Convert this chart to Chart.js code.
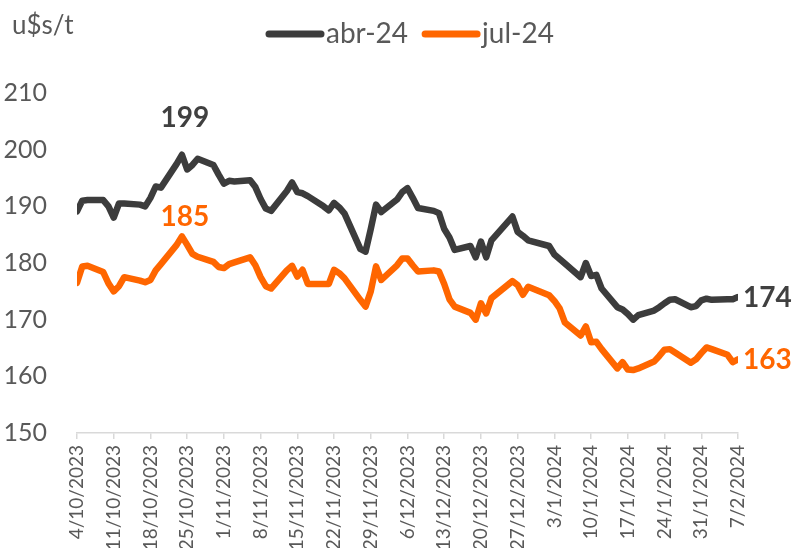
<!DOCTYPE html>
<html><head><meta charset="utf-8">
<script src="https://cdn.jsdelivr.net/npm/chart.js@4"></script>
<style>html,body{margin:0;padding:0;background:#fff}#wrap{width:793px;height:548px;position:relative}</style>
</head><body><div id="wrap"><canvas id="c"></canvas></div>
<script>
const dates = [
'4/10/2023','5/10/2023','6/10/2023',
'9/10/2023','10/10/2023','11/10/2023','12/10/2023','13/10/2023',
'16/10/2023','17/10/2023','18/10/2023','19/10/2023','20/10/2023',
'23/10/2023','24/10/2023','25/10/2023','26/10/2023','27/10/2023',
'30/10/2023','31/10/2023','1/11/2023','2/11/2023','3/11/2023',
'6/11/2023','7/11/2023','8/11/2023','9/11/2023','10/11/2023',
'13/11/2023','14/11/2023','15/11/2023','16/11/2023','17/11/2023',
'20/11/2023','21/11/2023','22/11/2023','23/11/2023','24/11/2023',
'27/11/2023','28/11/2023','29/11/2023','30/11/2023','1/12/2023',
'4/12/2023','5/12/2023','6/12/2023','7/12/2023','8/12/2023',
'11/12/2023','12/12/2023','13/12/2023','14/12/2023','15/12/2023',
'18/12/2023','19/12/2023','20/12/2023','21/12/2023','22/12/2023',
'26/12/2023','27/12/2023','28/12/2023','29/12/2023',
'2/1/2024','3/1/2024','4/1/2024','5/1/2024',
'8/1/2024','9/1/2024','10/1/2024','11/1/2024','12/1/2024',
'15/1/2024','16/1/2024','17/1/2024','18/1/2024','19/1/2024',
'22/1/2024','23/1/2024','24/1/2024','25/1/2024','26/1/2024',
'29/1/2024','30/1/2024','31/1/2024','1/2/2024','2/2/2024',
'5/2/2024','6/2/2024','7/2/2024'
];
const abr24 = [
189.1,191.0,191.1,
191.1,190.0,188.0,190.5,190.5,
190.3,190.0,191.5,193.5,193.3,
197.5,199.1,196.5,197.3,198.4,
197.3,195.6,194.0,194.5,194.4,
194.6,193.4,191.3,189.6,189.2,
192.7,194.2,192.5,192.3,191.8,
190.0,189.3,190.6,189.8,188.7,
182.5,182.0,186.0,190.3,189.0,
191.2,192.5,193.2,191.5,189.7,
189.2,188.8,186.0,184.5,182.3,
183.0,181.0,183.8,181.0,184.0,
188.2,185.5,184.8,184.0,
183.0,181.5,180.7,179.9,
177.5,180.0,177.7,177.9,175.5,
172.2,171.8,171.0,170.0,170.8,
171.6,172.2,172.9,173.5,173.6,
172.2,172.4,173.4,173.7,173.5,
173.6,173.6,174.0
];
const jul24 = [
176.5,179.4,179.5,
178.4,176.4,175.0,175.9,177.5,
176.9,176.6,177.0,178.7,179.8,
183.2,184.7,183.2,181.6,181.1,
180.2,179.3,179.1,179.8,180.1,
181.0,179.6,177.5,175.9,175.5,
178.7,179.5,177.6,178.8,176.3,
176.3,176.3,178.8,178.2,177.3,
173.5,172.3,175.0,179.4,177.0,
179.6,180.8,180.8,179.6,178.5,
178.7,178.5,176.3,173.6,172.3,
171.2,170.0,172.9,171.1,173.8,
176.8,176.1,174.4,175.8,
174.3,173.3,172.0,169.5,
167.2,168.8,166.0,166.1,164.8,
161.4,162.5,161.2,161.1,161.4,
162.6,163.6,164.7,164.8,164.2,
162.4,163.0,164.1,165.1,164.8,
163.8,162.5,163.0
];
const tickLabels = ['4/10/2023','11/10/2023','18/10/2023','25/10/2023','1/11/2023','8/11/2023','15/11/2023','22/11/2023','29/11/2023','6/12/2023','13/12/2023','20/12/2023','27/12/2023','3/1/2024','10/1/2024','17/1/2024','24/1/2024','31/1/2024','7/2/2024'];
const seriesNames = ['abr-24','jul-24'];
const seriesColors = ['#3c3c3c','#ff6600'];
const labelColors = ['#404040','#ff6600'];
const unitLabel = 'u$s/t';
const yMin = 150, yMax = 210, yStep = 10;

function toUTC(s){const p=s.split('/').map(Number);return Date.UTC(p[2],p[1]-1,p[0]);}
const t0 = toUTC(dates[0]);
const dayOf = s => Math.round((toUTC(s)-t0)/86400000);
const xs = dates.map(dayOf);
const tickDays = tickLabels.map(dayOf);
const mk = arr => arr.map((v,i)=>({x:xs[i],y:v}));

const FONT = 'Lato, "Open Sans", sans-serif';
const GREY = '#595959';

const extras = {
  id:'extras',
  afterDraw(chart){
    const ctx = chart.ctx, xS = chart.scales.x, yS = chart.scales.y;
    ctx.save();
    ctx.fillStyle = GREY; ctx.font = '26px '+FONT; ctx.textBaseline='middle'; ctx.textAlign='left';
    ctx.fillText(unitLabel, 12, 26);
    ctx.font = '28px '+FONT;
    let lx = 266;
    const ly = 34;
    seriesNames.forEach((n,i)=>{
      ctx.strokeStyle = seriesColors[i]; ctx.lineWidth = 7; ctx.lineCap='round';
      ctx.beginPath(); ctx.moveTo(lx+3, ly); ctx.lineTo(lx+55, ly); ctx.stroke();
      lx += 60;
      ctx.fillStyle = GREY; ctx.fillText(n, lx, ly);
      lx += ctx.measureText(n).width + 14;
    });
    ctx.font = 'bold 28px '+FONT;
    const sets = [abr24, jul24];
    const peakOff = [-37, -19];
    sets.forEach((arr,i)=>{
      let mi = 0; arr.forEach((v,k)=>{ if(v>arr[mi]) mi=k; });
      ctx.fillStyle = labelColors[i];
      ctx.textAlign='center'; ctx.textBaseline='middle';
      ctx.fillText(String(Math.round(arr[mi])), xS.getPixelForValue(xs[mi])+3, yS.getPixelForValue(arr[mi])+peakOff[i]);
      const li = arr.length-1;
      ctx.textAlign='left';
      ctx.fillText(String(Math.round(arr[li])), xS.getPixelForValue(xs[li])+5, yS.getPixelForValue(arr[li])+1);
    });
    ctx.restore();
  }
};

new Chart(document.getElementById('c'), {
  type:'line',
  data:{datasets:[
    {label:seriesNames[0], data:mk(abr24), borderColor:seriesColors[0], borderWidth:6.5, pointRadius:0, tension:0, borderCapStyle:'round', borderJoinStyle:'round'},
    {label:seriesNames[1], data:mk(jul24), borderColor:seriesColors[1], borderWidth:6.5, pointRadius:0, tension:0, borderCapStyle:'round', borderJoinStyle:'round'}
  ]},
  options:{
    responsive:true, maintainAspectRatio:false, animation:false,
    layout:{padding:{top:93,right:55,left:0,bottom:0}},
    plugins:{legend:{display:false}, tooltip:{enabled:false}},
    scales:{
      x:{type:'linear', min:0, max:tickDays[tickDays.length-1],
        afterBuildTicks(s){ s.ticks = tickDays.map(v=>({value:v})); },
        afterFit(s){ s.height = 115; },
        grid:{drawOnChartArea:false, drawTicks:true, tickLength:6, color:'#d9d9d9', lineWidth:1.5},
        border:{display:true, color:'#d9d9d9', width:1.5},
        ticks:{autoSkip:false, minRotation:90, maxRotation:90, padding:6, color:GREY, font:{family:FONT, size:19},
          callback(v){ const k = tickDays.indexOf(v); return k>=0 ? tickLabels[k] : ''; }}
      },
      y:{min:yMin, max:yMax,
        afterFit(s){ s.width = 77; },
        grid:{display:false}, border:{display:false},
        ticks:{stepSize:yStep, padding:22, color:GREY, font:{family:FONT, size:25}}
      }
    }
  },
  plugins:[extras]
});
</script></body></html>
